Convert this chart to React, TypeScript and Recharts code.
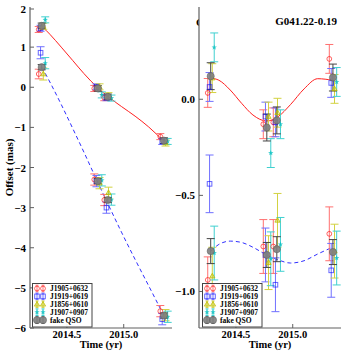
import React from 'react';
import { ComposedChart, Line, Scatter, ErrorBar, XAxis, YAxis } from 'recharts';

const FONT = '"Liberation Serif", "DejaVu Serif", serif';

const sources = ['J1905+0632', 'J1919+0619', 'J1856+0610', 'J1907+0907', 'fake QSO'];
const barColors = ['#ff7070', '#7070ff', '#d2d240', '#40d0d0', '#454545'];

// observation times per source (red, blue, yellow, cyan, fake QSO)
const times = [
  [2014.252, 2014.741, 2014.829, 2015.322],
  [2014.268, 2014.76, 2014.848, 2015.339],
  [2014.292, 2014.787, 2014.866, 2015.368],
  [2014.309, 2014.807, 2014.892, 2015.387],
  [2014.278, 2014.772, 2014.86, 2015.354],
];

// left panel: offsets (mas)
const raOffset = [
  [1.44, -0.03, -0.26, -1.23],
  [1.47, 0.01, -0.26, -1.35],
  [1.52, 0.01, -0.21, -1.39],
  [1.68, -0.19, -0.27, -1.35],
  [1.53, -0.03, -0.24, -1.33],
];
const decOffset = [
  [0.33, -2.3, -2.81, -5.58],
  [0.86, -2.34, -3.0, -5.78],
  [0.33, -2.39, -2.63, -5.68],
  [0.6, -2.32, -2.8, -5.72],
  [0.5, -2.34, -2.81, -5.69],
];

// right panel: parallax residuals (mas)
const raResidual = [
  [0.033, -0.13, -0.12, 0.21],
  [0.064, -0.09, -0.12, 0.085],
  [0.11, -0.09, -0.07, 0.054],
  [0.27, -0.28, -0.13, 0.09],
  [0.12, -0.147, -0.11, 0.113],
];
const decResidual = [
  [-0.94, -0.766, -0.766, -0.7],
  [-0.44, -0.81, -0.965, -0.89],
  [-0.92, -0.85, -0.63, -0.79],
  [-0.8, -0.83, -0.755, -0.826],
  [-0.79, -0.81, -0.78, -0.795],
];

const raErr = [
  [0.075, 0.075, 0.075, 0.075],
  [0.075, 0.075, 0.075, 0.075],
  [0.075, 0.075, 0.075, 0.075],
  [0.075, 0.075, 0.075, 0.075],
  [0.07, 0.07, 0.07, 0.07],
];
const decErr = [
  [0.12, 0.14, 0.14, 0.14],
  [0.15, 0.14, 0.14, 0.14],
  [0.15, 0.14, 0.14, 0.14],
  [0.14, 0.14, 0.14, 0.14],
  [0.065, 0.065, 0.065, 0.065],
];

// fitted curves
const fitTimes = [2014.28, 2014.35, 2014.45, 2014.55, 2014.65, 2014.77, 2014.87, 2014.98, 2015.1, 2015.22, 2015.35];
const raFit = [1.52, 1.32, 1.0, 0.67, 0.34, -0.01, -0.25, -0.48, -0.72, -0.99, -1.34];
const decFit = [0.5, 0.13, -0.43, -1.02, -1.62, -2.36, -2.96, -3.61, -4.29, -4.95, -5.67];
const raFitRes = [0.11, 0.099, 0.048, -0.021, -0.082, -0.113, -0.091, -0.028, 0.054, 0.107, 0.099];
const decFitRes = [-0.79, -0.755, -0.738, -0.745, -0.77, -0.81, -0.835, -0.852, -0.84, -0.805, -0.77];

const xTicks = [2014.5, 2015.0];
const xDomain = [2014.175, 2015.425];

const build = (vals: number[][], errs: number[][]) =>
  vals.map((row, s) => row.map((v, k) => ({ t: times[s][k], v, e: errs[s][k] })));
const curve = (vals: number[]) => vals.map((v, k) => ({ t: fitTimes[k], v }));

const fmtInt = (v: number) => (v < 0 ? '\u2212' + Math.abs(v) : String(v));
const fmt1 = (v: number) => (v < 0 ? '\u2212' + Math.abs(v).toFixed(1) : v.toFixed(1));

const AX = '#606060';

function Marker({ kind, cx, cy }: { kind: number; cx: number; cy: number }) {
  if (kind === 0)
    return <circle cx={cx} cy={cy} r={2.4} fill="none" stroke="#ff0000" strokeOpacity={0.6} strokeWidth={1} />;
  if (kind === 1)
    return <rect x={cx - 2.3} y={cy - 2.3} width={4.6} height={4.6} fill="none" stroke="#0000ff" strokeOpacity={0.6} strokeWidth={1} />;
  if (kind === 2)
    return (
      <polygon
        points={`${cx},${cy - 2.8} ${cx - 2.6},${cy + 1.8} ${cx + 2.6},${cy + 1.8}`}
        fill="#bfbf00"
        fillOpacity={0.35}
        stroke="#bfbf00"
        strokeOpacity={0.8}
      />
    );
  if (kind === 3) {
    const pts: string[] = [];
    for (let i = 0; i < 10; i++) {
      const r = i % 2 === 0 ? 2.8 : 1.2;
      const a = -Math.PI / 2 + (i * Math.PI) / 5;
      pts.push(`${cx + r * Math.cos(a)},${cy + r * Math.sin(a)}`);
    }
    return <polygon points={pts.join(' ')} fill="#00bfbf" fillOpacity={0.75} />;
  }
  return <circle cx={cx} cy={cy} r={3.6} fill="#808080" fillOpacity={0.9} stroke="#5a5a5a" strokeWidth={0.5} />;
}

const BottomTick = (p: any) => (
  <g>
    <line x1={p.x} y1={p.y} x2={p.x} y2={p.y - 4} stroke={AX} />
    <text x={p.x} y={p.y + 10} textAnchor="middle" fontFamily={FONT} fontWeight="bold" fontSize={10.5} fill="#000">
      {p.payload.value.toFixed(1)}
    </text>
  </g>
);
const TopTick = (p: any) => <line x1={p.x} y1={p.y} x2={p.x} y2={p.y + 4} stroke={AX} />;
const RightTick = (p: any) => <line x1={p.x} y1={p.y} x2={p.x - 4} y2={p.y} stroke={AX} />;
const makeLeftTick = (fmt: (v: number) => string) => (p: any) => (
  <g>
    <line x1={p.x} y1={p.y} x2={p.x + 4} y2={p.y} stroke={AX} />
    <text x={p.x - 4} y={p.y + 4} textAnchor="end" fontFamily={FONT} fontWeight="bold" fontSize={11} fill="#000">
      {fmt(p.payload.value)}
    </text>
  </g>
);

function Legend({ left }: { left: number }) {
  return (
    <svg style={{ position: 'absolute', left, top: 283 }} width={61} height={45}>
      <rect x={0.5} y={0.5} width={59.5} height={43.5} fill="#fff" fillOpacity={0.9} stroke="#444" strokeWidth={1} />
      {sources.map((name, i) => {
        const y = 5.5 + i * 7.9;
        return (
          <g key={name}>
            {[5, 11].map((x) => (
              <g key={x}>
                <line x1={x} y1={y - 3.3} x2={x} y2={y + 3.3} stroke={barColors[i]} />
                <line x1={x - 1.5} y1={y - 3.3} x2={x + 1.5} y2={y - 3.3} stroke={barColors[i]} />
                <line x1={x - 1.5} y1={y + 3.3} x2={x + 1.5} y2={y + 3.3} stroke={barColors[i]} />
                <Marker kind={i} cx={x} cy={y} />
              </g>
            ))}
            <text x={18} y={y + 2.7} fontFamily={FONT} fontWeight="bold" fontSize={7.5} fill="#000">
              {name}
            </text>
          </g>
        );
      })}
    </svg>
  );
}

interface PanelProps {
  left: number;
  yAxisWidth: number;
  marginRight: number;
  yDomain: number[];
  yTicks: number[];
  fmt: (v: number) => string;
  top: any[][];
  bottom: any[][];
  fitTop: any[];
  fitBottom: any[];
  yLabel?: string;
}

function Panel(props: PanelProps) {
  const { top, bottom } = props;
  return (
    <div style={{ position: 'absolute', left: props.left, top: 0 }}>
      <ComposedChart width={180} height={354} margin={{ top: 7, right: props.marginRight, bottom: 0, left: 0 }}>
        <XAxis
          dataKey="t"
          type="number"
          domain={xDomain}
          ticks={xTicks}
          allowDataOverflow
          height={26}
          tickSize={0}
          tickMargin={0}
          tick={BottomTick}
          axisLine={{ stroke: AX, strokeWidth: 1.2 }}
          label={{ value: 'Time (yr)', position: 'insideBottom', offset: 6, style: { fontFamily: FONT, fontWeight: 'bold', fontSize: 10.5, fill: '#000' } }}
        />
        <XAxis
          xAxisId="top"
          orientation="top"
          dataKey="t"
          type="number"
          domain={xDomain}
          ticks={xTicks}
          allowDataOverflow
          height={0}
          tickSize={0}
          tickMargin={0}
          tick={TopTick}
          axisLine={{ stroke: AX, strokeWidth: 1.2 }}
        />
        <YAxis
          dataKey="v"
          type="number"
          domain={props.yDomain}
          ticks={props.yTicks}
          allowDataOverflow
          width={props.yAxisWidth}
          tickSize={0}
          tickMargin={0}
          tick={makeLeftTick(props.fmt)}
          axisLine={{ stroke: AX, strokeWidth: 1.2 }}
          label={
            props.yLabel
              ? { value: props.yLabel, angle: -90, position: 'insideLeft', offset: 9, style: { textAnchor: 'middle', fontFamily: FONT, fontWeight: 'bold', fontSize: 11, fill: '#000' } }
              : undefined
          }
        />
        <YAxis
          yAxisId="r"
          orientation="right"
          dataKey="v"
          type="number"
          domain={props.yDomain}
          ticks={props.yTicks}
          allowDataOverflow
          width={0}
          tickSize={0}
          tickMargin={0}
          tick={RightTick}
          axisLine={{ stroke: AX, strokeWidth: 1.2 }}
        />
        <Line data={props.fitTop} dataKey="v" type="monotone" stroke="#ff2020" strokeWidth={1} dot={false} isAnimationActive={false} />
        <Line data={props.fitBottom} dataKey="v" type="monotone" stroke="#3030ff" strokeWidth={1} strokeDasharray="4 3" dot={false} isAnimationActive={false} />
        {[top, bottom].map((group, g) =>
          group.map((data, s) => (
            <Scatter
              key={`${g}-${s}`}
              data={data}
              isAnimationActive={false}
              shape={(p: any) => <Marker kind={s} cx={p.cx} cy={p.cy} />}
            >
              <ErrorBar dataKey="e" direction="y" width={4} stroke={barColors[s]} strokeWidth={1} />
            </Scatter>
          ))
        )}
      </ComposedChart>
    </div>
  );
}

export default function App() {
  return (
    <div style={{ position: 'absolute', left: 0, top: 0, width: 345, height: 354, background: '#fff', overflow: 'hidden' }}>
      <div style={{ position: 'absolute', left: 196, top: 16, width: 3, height: 13, overflow: 'hidden', fontFamily: FONT, fontWeight: 'bold', fontSize: 11, lineHeight: '13px' }}>
        G
      </div>
      <Panel
        left={0}
        yAxisWidth={30}
        marginRight={8}
        yDomain={[-6, 2]}
        yTicks={[-6, -5, -4, -3, -2, -1, 0, 1, 2]}
        fmt={fmtInt}
        top={build(raOffset, raErr)}
        bottom={build(decOffset, decErr)}
        fitTop={curve(raFit)}
        fitBottom={curve(decFit)}
        yLabel="Offset (mas)"
      />
      <Panel
        left={165}
        yAxisWidth={34}
        marginRight={4}
        yDomain={[-1.19, 0.48]}
        yTicks={[-1.0, -0.5, 0.0]}
        fmt={fmt1}
        top={build(raResidual, raErr)}
        bottom={build(decResidual, decErr)}
        fitTop={curve(raFitRes)}
        fitBottom={curve(decFitRes)}
      />
      <div style={{ position: 'absolute', right: 8, top: 15, fontFamily: FONT, fontWeight: 'bold', fontSize: 11 }}>G041.22-0.19</div>
      <Legend left={32} />
      <Legend left={202} />
    </div>
  );
}
